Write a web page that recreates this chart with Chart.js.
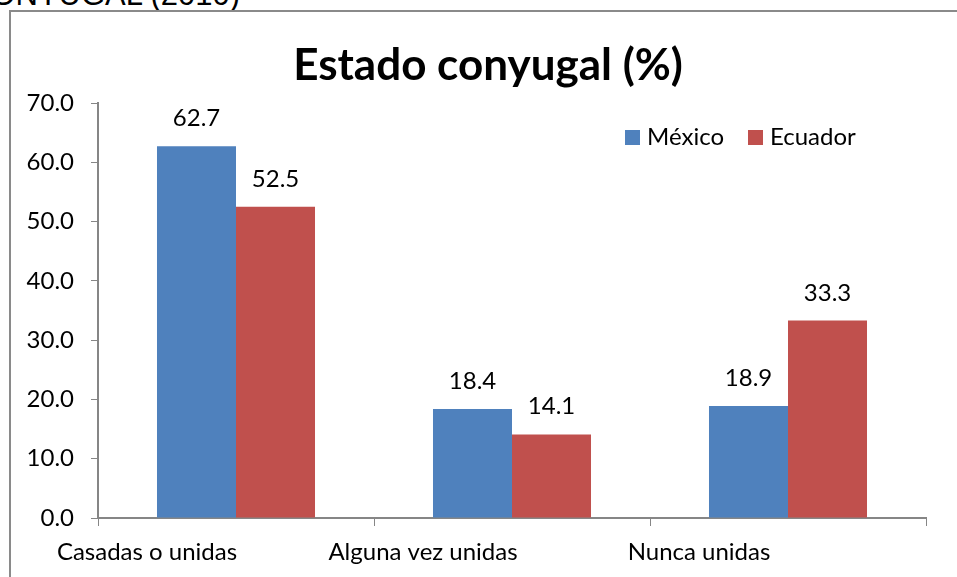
<!DOCTYPE html>
<html>
<head>
<meta charset="utf-8">
<script src="https://cdn.jsdelivr.net/npm/chart.js@4/dist/chart.umd.min.js"></script>
<style>
  html, body { margin: 0; padding: 0; background: #ffffff; overflow: hidden; }
  body { width: 957px; height: 577px; position: relative; }
  #frame { position: absolute; left: 9px; top: 10px; width: 1000px; height: 700px; border: 2px solid #8a8a8a; box-sizing: border-box; }
  #heading { position: absolute; right: 717px; top: -21px; font-family: "Liberation Sans", Arial, sans-serif; font-size: 31px; line-height: 31px; color: #000; white-space: nowrap; }
  #c { position: absolute; left: 0; top: 0; }
</style>
</head>
<body>
<div id="heading">ESTADO CONYUGAL (2010)</div>
<div id="frame"></div>
<canvas id="c" width="957" height="577"></canvas>
<script>
const categories = ["Casadas o unidas", "Alguna vez unidas", "Nunca unidas"];
const mexico = [62.7, 18.4, 18.9];
const ecuador = [52.5, 14.1, 33.3];
const seriesNames = ["México", "Ecuador"];
const yTicks = [0, 10, 20, 30, 40, 50, 60, 70];

const FONT = "Lato, 'Open Sans', sans-serif";
const GREY = "#868686";

const valueLabels = {
  id: "valueLabels",
  afterDatasetsDraw(chart) {
    const ctx = chart.ctx;
    ctx.save();
    ctx.font = "24px " + FONT;
    ctx.fillStyle = "#000";
    ctx.textAlign = "center";
    ctx.textBaseline = "alphabetic";
    chart.data.datasets.forEach((ds, i) => {
      chart.getDatasetMeta(i).data.forEach((el, j) => {
        ctx.fillText(ds.data[j].toFixed(1), el.x, el.y - 20);
      });
    });
    ctx.restore();
  }
};

const innerLegend = {
  id: "innerLegend",
  afterDraw(chart) {
    const ctx = chart.ctx;
    const xs = [625, 748];
    ctx.save();
    ctx.font = "24px " + FONT;
    ctx.textBaseline = "alphabetic";
    ctx.textAlign = "left";
    chart.data.datasets.forEach((ds, i) => {
      ctx.fillStyle = ds.backgroundColor;
      ctx.fillRect(xs[i], 130, 15, 15);
      ctx.fillStyle = "#000";
      ctx.fillText(ds.label, xs[i] + 22, 145);
    });
    ctx.restore();
  }
};

const TITLE_SIZE = 44;
const TITLE_TOP = 39;

new Chart(document.getElementById("c"), {
  type: "bar",
  data: {
    labels: categories,
    datasets: [
      { label: seriesNames[0], data: mexico, backgroundColor: "#4F81BD" },
      { label: seriesNames[1], data: ecuador, backgroundColor: "#C0504D" }
    ]
  },
  options: {
    responsive: false,
    animation: false,
    devicePixelRatio: 1,
    categoryPercentage: 0.5725,
    barPercentage: 1.0,
    layout: { padding: { left: 19, right: 0, top: 0, bottom: 0 } },
    plugins: {
      legend: { display: false },
      tooltip: { enabled: false },
      title: {
        display: true,
        text: "Estado conyugal (%)",
        color: "#000",
        font: { family: FONT, weight: "bold", size: TITLE_SIZE, lineHeight: 1.2 },
        padding: { top: TITLE_TOP, bottom: 103 - TITLE_TOP - TITLE_SIZE * 1.2 }
      }
    },
    scales: {
      x: {
        grid: { offset: true, drawOnChartArea: false, drawTicks: true, tickLength: 8, color: GREY, lineWidth: 1 },
        border: { display: true, color: GREY, width: 2 },
        ticks: { color: "#000", font: { family: FONT, size: 24 }, padding: 12, labelOffset: -89, maxRotation: 0, autoSkip: false },
        afterFit(scale) { scale.height = 59; }
      },
      y: {
        min: 0,
        max: 70,
        afterBuildTicks(scale) { scale.ticks = yTicks.map(v => ({ value: v })); },
        grid: { drawOnChartArea: false, drawTicks: true, tickLength: 7, color: GREY, lineWidth: 1 },
        border: { display: true, color: GREY, width: 2 },
        ticks: { color: "#000", font: { family: FONT, size: 24 }, padding: 17, callback: v => Number(v).toFixed(1) },
        afterFit(scale) { scale.width = 79; }
      },
      spacer: {
        type: "linear",
        position: "right",
        display: true,
        grid: { display: false, drawTicks: false },
        border: { display: false },
        ticks: { display: false },
        afterFit(scale) { scale.width = 31; }
      }
    }
  },
  plugins: [valueLabels, innerLegend]
});
</script>
</body>
</html>
